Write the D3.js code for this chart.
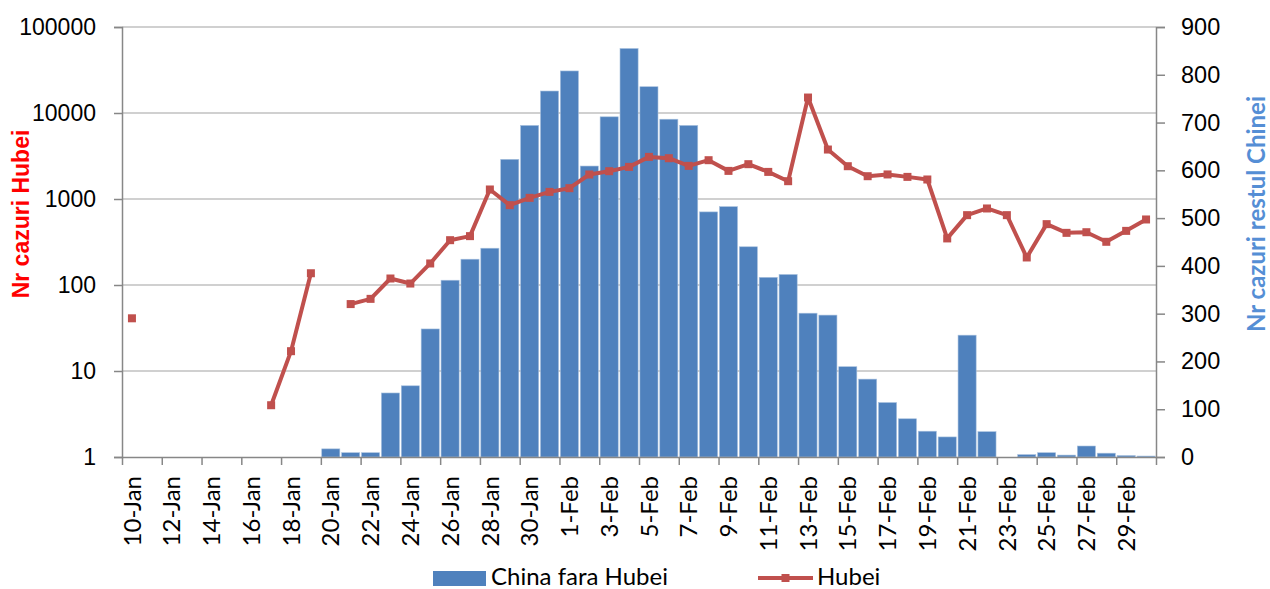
<!DOCTYPE html>
<html>
<head>
<meta charset="utf-8">
<script src="https://cdn.jsdelivr.net/npm/d3@7"></script>
<style>
  body { margin: 0; background: #fff; }
</style>
</head>
<body>
<script>
var days = ["10-Jan","11-Jan","12-Jan","13-Jan","14-Jan","15-Jan","16-Jan","17-Jan","18-Jan","19-Jan",
    "20-Jan","21-Jan","22-Jan","23-Jan","24-Jan","25-Jan","26-Jan","27-Jan","28-Jan","29-Jan",
    "30-Jan","31-Jan","1-Feb","2-Feb","3-Feb","4-Feb","5-Feb","6-Feb","7-Feb","8-Feb",
    "9-Feb","10-Feb","11-Feb","12-Feb","13-Feb","14-Feb","15-Feb","16-Feb","17-Feb","18-Feb",
    "19-Feb","20-Feb","21-Feb","22-Feb","23-Feb","24-Feb","25-Feb","26-Feb","27-Feb","28-Feb",
    "29-Feb","1-Mar"];

// cazuri noi China fara Hubei (axa dreapta)
var chinaFaraHubei = [0,0,0,0,0,0,0,0,0,0,
    17,9,9,134,149,268,370,414,437,623,
    694,766,808,609,712,855,775,707,694,513,
    524,440,376,382,301,297,189,163,114,80,
    54,42,255,53,0,5,9,4,23,8,
    3,2];

// cazuri noi Hubei (axa stanga, log)
var hubei = [41,null,null,null,null,null,null,4,17,137,
    null,60,69,119,104,178,332,370,1290,848,
    1031,1210,1336,1927,2105,2362,3088,2980,2427,2826,
    2123,2540,2066,1611,15130,3760,2406,1841,1930,1808,
    1686,348,649,776,649,209,510,404,411,318,
    426,578];

var leftTicks = [1, 10, 100, 1000, 10000, 100000];
var rightTicks = [0, 100, 200, 300, 400, 500, 600, 700, 800, 900];

var width = 1270, height = 589;
var plotLeft = 122, plotRight = 1156, plotTop = 27, plotBottom = 457;
var blue = "#4F81BD", red = "#C0504D";

var rows = days.map(function(d, i) {
    return {day: d, china: chinaFaraHubei[i], hubei: hubei[i]};
});

var svg = d3.select("body").append("svg")
    .attr("width", width)
    .attr("height", height)
    .style("font-family", "Lato, 'Open Sans', sans-serif");

var x = d3.scaleBand()
    .domain(days)
    .range([plotLeft, plotRight])
    .paddingInner(0.09)
    .paddingOuter(0.045);

var xi = d3.scaleLinear().domain([0, days.length]).range([plotLeft, plotRight]);

var yLog = d3.scaleLog().domain([1, 100000]).range([plotBottom, plotTop]);
var yLin = d3.scaleLinear().domain([0, 900]).range([plotBottom, plotTop]);

// grid
svg.append("g")
    .selectAll("line")
    .data(leftTicks.slice(1))
    .enter()
    .append("line")
    .attr("x1", plotLeft)
    .attr("x2", plotRight)
    .attr("y1", function(d) { return yLog(d); })
    .attr("y2", function(d) { return yLog(d); })
    .attr("stroke", "#C0C0C0")
    .attr("stroke-width", 1.5);

// bars
svg.append("g")
    .selectAll("rect")
    .data(rows)
    .enter()
    .append("rect")
    .attr("x", function(d) { return x(d.day); })
    .attr("width", x.bandwidth())
    .attr("y", function(d) { return yLin(d.china); })
    .attr("height", function(d) { return plotBottom - yLin(d.china); })
    .attr("fill", blue)
    .attr("stroke", "#A7C0DE")
    .attr("stroke-width", 0.6);

// axes
var axisLeft = svg.append("g")
    .attr("transform", "translate(" + plotLeft + ",0)")
    .call(d3.axisLeft(yLog).tickValues(leftTicks).tickFormat(d3.format("d"))
        .tickSize(8).tickPadding(18));
axisLeft.selectAll("text")
    .style("font-family", "'Liberation Sans', Arial, sans-serif")
    .style("font-size", "23px")
    .attr("fill", "#000");

var axisRight = svg.append("g")
    .attr("transform", "translate(" + plotRight + ",0)")
    .call(d3.axisRight(yLin).tickValues(rightTicks).tickSize(9).tickPadding(16));
axisRight.selectAll("text")
    .style("font-size", "23.5px")
    .attr("fill", "#000");

var axisBottom = svg.append("g")
    .attr("transform", "translate(0," + plotBottom + ")")
    .call(d3.axisBottom(xi).tickValues(d3.range(0, days.length + 1, 2))
        .tickFormat("").tickSize(8).tickSizeOuter(0));

svg.selectAll(".domain, .tick line")
    .attr("stroke", "#878787")
    .attr("stroke-width", 1.5);

svg.append("g")
    .selectAll("text")
    .data(days.filter(function(d, i) { return i % 2 === 0; }))
    .enter()
    .append("text")
    .attr("transform", function(d) {
        return "translate(" + (x(d) + x.bandwidth() / 2) + "," + (plotBottom + 19) + ") rotate(-90)";
    })
    .attr("text-anchor", "end")
    .attr("dy", "0.36em")
    .style("font-size", "24px")
    .text(function(d) { return d; });

// Hubei line
var line = d3.line()
    .defined(function(d) { return d.hubei != null; })
    .x(function(d) { return x(d.day) + x.bandwidth() / 2; })
    .y(function(d) { return yLog(d.hubei); });

svg.append("path")
    .datum(rows)
    .attr("d", line)
    .attr("fill", "none")
    .attr("stroke", red)
    .attr("stroke-width", 4)
    .attr("stroke-linejoin", "round");

svg.append("g")
    .selectAll("rect")
    .data(rows.filter(function(d) { return d.hubei != null; }))
    .enter()
    .append("rect")
    .attr("x", function(d) { return x(d.day) + x.bandwidth() / 2 - 4; })
    .attr("y", function(d) { return yLog(d.hubei) - 4; })
    .attr("width", 8)
    .attr("height", 8)
    .attr("fill", red);

// axis titles
svg.append("text")
    .attr("transform", "translate(21,214) rotate(-90)")
    .attr("text-anchor", "middle")
    .attr("dy", "0.35em")
    .style("font-family", "'Liberation Sans', Arial, sans-serif")
    .style("font-weight", "bold")
    .style("font-size", "23px")
    .attr("fill", "#FF0000")
    .text("Nr cazuri Hubei");

svg.append("text")
    .attr("transform", "translate(1257,214) rotate(-90)")
    .attr("text-anchor", "middle")
    .attr("dy", "0.35em")
    .style("font-weight", "bold")
    .style("font-size", "24px")
    .attr("fill", "#558ED5")
    .text("Nr cazuri restul Chinei");

// legend
var legend = svg.append("g");
legend.append("rect")
    .attr("x", 433).attr("y", 571)
    .attr("width", 53).attr("height", 15)
    .attr("fill", blue);
legend.append("text")
    .attr("x", 491).attr("y", 577)
    .attr("dy", "0.35em")
    .style("font-size", "24px")
    .text("China fara Hubei");
legend.append("line")
    .attr("x1", 758).attr("x2", 813)
    .attr("y1", 578).attr("y2", 578)
    .attr("stroke", red)
    .attr("stroke-width", 4);
legend.append("rect")
    .attr("x", 781.5).attr("y", 574)
    .attr("width", 8).attr("height", 8)
    .attr("fill", red);
legend.append("text")
    .attr("x", 817).attr("y", 577)
    .attr("dy", "0.35em")
    .style("font-size", "24px")
    .text("Hubei");
</script>
</body>
</html>
